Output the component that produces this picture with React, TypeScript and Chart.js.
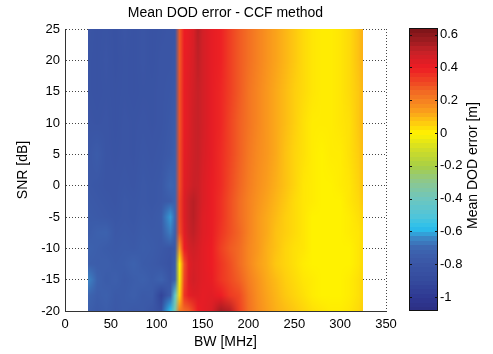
import React, { useEffect, useRef } from 'react';
import { Chart, registerables } from 'chart.js';

Chart.register(...registerables);

// ---------- data ----------
const TITLE = 'Mean DOD error - CCF method';
const X_TITLE = 'BW [MHz]';
const Y_TITLE = 'SNR [dB]';
const CB_TITLE = 'Mean DOD error [m]';

const BW_MHZ = [25, 35, 45, 55, 65, 75, 85, 95, 105, 115, 120, 125, 130, 135, 140, 145, 150, 160, 170, 180, 190, 200, 210, 220, 230, 240, 250, 260, 270, 280, 290, 300, 310, 320, 325];
const SNR_DB = [25, 20, 15, 10, 5, 0, -2.5, -5, -7.5, -10, -12.5, -15, -17.5, -20];

const ERR_SNR_25 = [-0.80, -0.82, -0.81, -0.83, -0.80, -0.82, -0.80, -0.82, -0.81, -0.80, -0.80, 0.28, 0.40, 0.42, 0.45, 0.52, 0.47, 0.42, 0.39, 0.33, 0.28, 0.24, 0.20, 0.16, 0.13, 0.10, 0.07, 0.04, 0.02, 0.01, 0.01, 0.02, 0.04, 0.08, 0.11];
const ERR_SNR_20 = [-0.81, -0.82, -0.80, -0.83, -0.81, -0.82, -0.80, -0.82, -0.80, -0.80, -0.79, 0.28, 0.41, 0.43, 0.46, 0.51, 0.47, 0.42, 0.39, 0.33, 0.28, 0.24, 0.20, 0.16, 0.13, 0.10, 0.07, 0.04, 0.02, 0.01, 0.01, 0.02, 0.04, 0.08, 0.11];
const ERR_SNR_15 = [-0.81, -0.82, -0.81, -0.82, -0.81, -0.82, -0.81, -0.81, -0.80, -0.79, -0.78, 0.29, 0.41, 0.44, 0.47, 0.50, 0.47, 0.42, 0.38, 0.33, 0.28, 0.23, 0.19, 0.15, 0.12, 0.09, 0.06, 0.04, 0.02, 0.01, 0.01, 0.02, 0.04, 0.07, 0.10];
const ERR_SNR_10 = [-0.80, -0.81, -0.80, -0.82, -0.80, -0.81, -0.80, -0.81, -0.80, -0.78, -0.76, 0.29, 0.41, 0.44, 0.48, 0.50, 0.47, 0.42, 0.38, 0.32, 0.27, 0.23, 0.19, 0.15, 0.12, 0.09, 0.06, 0.03, 0.01, 0.01, 0.01, 0.02, 0.03, 0.07, 0.10];
const ERR_SNR_5 = [-0.79, -0.76, -0.80, -0.81, -0.80, -0.81, -0.79, -0.80, -0.79, -0.77, -0.74, 0.30, 0.42, 0.45, 0.48, 0.50, 0.46, 0.42, 0.37, 0.32, 0.27, 0.22, 0.18, 0.15, 0.12, 0.08, 0.05, 0.03, 0.01, 0.00, 0.01, 0.01, 0.03, 0.06, 0.09];
const ERR_SNR_0 = [-0.78, -0.79, -0.80, -0.80, -0.79, -0.80, -0.78, -0.79, -0.78, -0.70, -0.72, 0.30, 0.43, 0.46, 0.49, 0.49, 0.45, 0.41, 0.37, 0.31, 0.26, 0.21, 0.17, 0.14, 0.11, 0.08, 0.05, 0.02, 0.01, 0.00, 0.00, 0.01, 0.02, 0.05, 0.08];
const ERR_SNR_M2_5 = [-0.77, -0.78, -0.79, -0.80, -0.78, -0.79, -0.78, -0.79, -0.78, -0.76, -0.72, 0.32, 0.44, 0.50, 0.52, 0.50, 0.45, 0.41, 0.36, 0.30, 0.25, 0.20, 0.16, 0.13, 0.10, 0.07, 0.04, 0.02, 0.01, 0.00, 0.00, 0.00, 0.02, 0.04, 0.07];
const ERR_SNR_M5 = [-0.76, -0.77, -0.78, -0.79, -0.78, -0.79, -0.77, -0.78, -0.76, -0.62, -0.70, 0.32, 0.44, 0.50, 0.52, 0.49, 0.44, 0.41, 0.36, 0.30, 0.25, 0.20, 0.15, 0.12, 0.09, 0.06, 0.04, 0.02, 0.00, 0.00, 0.00, 0.00, 0.01, 0.03, 0.05];
const ERR_SNR_M7_5 = [-0.76, -0.73, -0.72, -0.78, -0.77, -0.78, -0.76, -0.77, -0.77, -0.66, -0.74, 0.30, 0.43, 0.49, 0.51, 0.48, 0.44, 0.41, 0.35, 0.30, 0.26, 0.20, 0.15, 0.12, 0.08, 0.06, 0.04, 0.02, 0.00, 0.00, 0.00, 0.00, 0.01, 0.02, 0.04];
const ERR_SNR_M10 = [-0.72, -0.74, -0.76, -0.77, -0.76, -0.77, -0.75, -0.76, -0.78, -0.80, -0.78, 0.15, 0.40, 0.46, 0.48, 0.46, 0.43, 0.40, 0.33, 0.28, 0.25, 0.19, 0.15, 0.11, 0.08, 0.05, 0.03, 0.02, 0.00, 0.00, 0.00, 0.00, 0.00, 0.02, 0.04];
const ERR_SNR_M12_5 = [-0.74, -0.75, -0.74, -0.76, -0.75, -0.72, -0.76, -0.77, -0.79, -0.82, -0.75, 0.00, 0.30, 0.43, 0.46, 0.45, 0.43, 0.40, 0.35, 0.30, 0.25, 0.19, 0.14, 0.11, 0.07, 0.05, 0.03, 0.01, 0.00, 0.00, 0.00, 0.00, 0.00, 0.02, 0.04];
const ERR_SNR_M15 = [-0.64, -0.72, -0.76, -0.74, -0.77, -0.75, -0.73, -0.76, -0.72, -0.80, -0.72, -0.02, 0.32, 0.44, 0.47, 0.45, 0.43, 0.41, 0.35, 0.31, 0.27, 0.21, 0.16, 0.12, 0.09, 0.06, 0.04, 0.02, 0.01, 0.00, 0.00, 0.00, 0.01, 0.03, 0.05];
const ERR_SNR_M17_5 = [-0.70, -0.75, -0.73, -0.77, -0.76, -0.74, -0.77, -0.76, -0.93, -0.75, -0.45, 0.05, 0.35, 0.42, 0.44, 0.44, 0.42, 0.43, 0.40, 0.34, 0.31, 0.23, 0.17, 0.13, 0.10, 0.07, 0.05, 0.03, 0.01, 0.00, 0.00, 0.00, 0.01, 0.03, 0.05];
const ERR_SNR_M20 = [-0.74, -0.77, -0.75, -0.78, -0.76, -0.78, -0.77, -0.80, -0.85, -0.58, -0.35, 0.22, 0.25, 0.27, 0.33, 0.40, 0.42, 0.45, 0.55, 0.52, 0.33, 0.24, 0.18, 0.14, 0.11, 0.09, 0.07, 0.05, 0.03, 0.02, 0.01, 0.01, 0.02, 0.04, 0.06];

const X_TICKS = [0, 50, 100, 150, 200, 250, 300, 350];
const Y_TICKS = [-20, -15, -10, -5, 0, 5, 10, 15, 20, 25];
const CB_TICKS = [-1, -0.8, -0.6, -0.4, -0.2, 0, 0.2, 0.4, 0.6];
const CB_MIN = -1.085;
const CB_MAX = 0.64;

const CMAP_VALUES = [-1.085, -1.0, -0.9, -0.8, -0.7, -0.64, -0.58, -0.5, -0.4, -0.3, -0.2, -0.1, 0.0, 0.05, 0.1, 0.15, 0.2, 0.25, 0.3, 0.4, 0.5, 0.55, 0.64];
const CMAP_COLORS = ['#2b2e83', '#2f3892', '#344a9d', '#3a55a5', '#3d65b0', '#3b86c6', '#29c0ee', '#52c5d8', '#6dc6bf', '#8bc791', '#a8cf45', '#cfdd28', '#fff200', '#fed40c', '#fcb516', '#f9971d', '#f68121', '#f26b23', '#f04e23', '#ed1c24', '#c62127', '#a51d22', '#7a1417'];

const GRID = [ERR_SNR_25, ERR_SNR_20, ERR_SNR_15, ERR_SNR_10, ERR_SNR_5, ERR_SNR_0, ERR_SNR_M2_5, ERR_SNR_M5, ERR_SNR_M7_5, ERR_SNR_M10, ERR_SNR_M12_5, ERR_SNR_M15, ERR_SNR_M17_5, ERR_SNR_M20];

// ---------- helpers ----------
const FONT_FAMILY = '"Liberation Sans", Arial, Helvetica, sans-serif';
const TEXT_COLOR = '#000';

function hexToRgb(h: string): number[] {
  const n = parseInt(h.slice(1), 16);
  return [(n >> 16) & 255, (n >> 8) & 255, n & 255];
}
const CMAP_RGB = CMAP_COLORS.map(hexToRgb);

function colorFor(v: number): number[] {
  if (v <= CMAP_VALUES[0]) return CMAP_RGB[0];
  const last = CMAP_VALUES.length - 1;
  if (v >= CMAP_VALUES[last]) return CMAP_RGB[last];
  for (let i = 0; i < last; i++) {
    const a = CMAP_VALUES[i], b = CMAP_VALUES[i + 1];
    if (v >= a && v <= b) {
      const t = (v - a) / (b - a);
      const c0 = CMAP_RGB[i], c1 = CMAP_RGB[i + 1];
      return [c0[0] + (c1[0] - c0[0]) * t, c0[1] + (c1[1] - c0[1]) * t, c0[2] + (c1[2] - c0[2]) * t];
    }
  }
  return CMAP_RGB[last];
}

function locate(arr: number[], v: number): [number, number] {
  const asc = arr[arr.length - 1] > arr[0];
  const n = arr.length;
  for (let i = 0; i < n - 1; i++) {
    const a = arr[i], b = arr[i + 1];
    const inside = asc ? v >= a && v <= b : v <= a && v >= b;
    if (inside) return [i, (v - a) / (b - a)];
  }
  if (asc ? v < arr[0] : v > arr[0]) return [0, 0];
  return [n - 2, 1];
}

const heatmapPlugin = {
  id: 'heatmap',
  beforeDatasetsDraw(chart: any) {
    const xs = chart.scales.x, ys = chart.scales.y;
    const ctx = chart.ctx as CanvasRenderingContext2D;
    const x0 = Math.round(xs.getPixelForValue(BW_MHZ[0]));
    const x1 = Math.round(xs.getPixelForValue(BW_MHZ[BW_MHZ.length - 1]));
    const y0 = Math.round(ys.getPixelForValue(SNR_DB[0]));
    const y1 = Math.round(ys.getPixelForValue(SNR_DB[SNR_DB.length - 1]));
    const w = x1 - x0, h = y1 - y0;
    if (w <= 0 || h <= 0) return;
    const nodes = GRID.map((row) => row.map((v) => colorFor(v)));
    const off = document.createElement('canvas');
    off.width = w; off.height = h;
    const octx = off.getContext('2d')!;
    const img = octx.createImageData(w, h);
    const colIdx: [number, number][] = [];
    for (let i = 0; i < w; i++) colIdx.push(locate(BW_MHZ, xs.getValueForPixel(x0 + i + 0.5)));
    for (let j = 0; j < h; j++) {
      const [r, t] = locate(SNR_DB, ys.getValueForPixel(y0 + j + 0.5));
      const rowA = nodes[r], rowB = nodes[r + 1];
      for (let i = 0; i < w; i++) {
        const [c, u] = colIdx[i];
        const p = (j * w + i) * 4;
        for (let k = 0; k < 3; k++) {
          const top = rowA[c][k] * (1 - u) + rowA[c + 1][k] * u;
          const bot = rowB[c][k] * (1 - u) + rowB[c + 1][k] * u;
          img.data[p + k] = Math.round(top * (1 - t) + bot * t);
        }
        img.data[p + 3] = 255;
      }
    }
    octx.putImageData(img, 0, 0);
    ctx.drawImage(off, x0, y0);
  },
};

const colorbarPlugin = {
  id: 'colorbar',
  beforeDatasetsDraw(chart: any) {
    const ys = chart.scales.y;
    const { left, right } = chart.chartArea;
    const ctx = chart.ctx as CanvasRenderingContext2D;
    const n = 64;
    const d = (CB_MAX - CB_MIN) / n;
    for (let k = 0; k < n; k++) {
      const lo = CB_MIN + k * d, hi = lo + d;
      const c = colorFor((lo + hi) / 2);
      const yt = ys.getPixelForValue(hi), yb = ys.getPixelForValue(lo);
      ctx.fillStyle = `rgb(${Math.round(c[0])},${Math.round(c[1])},${Math.round(c[2])})`;
      ctx.fillRect(left, Math.floor(yt), right - left, Math.ceil(yb) - Math.floor(yt));
    }
    const top = ys.getPixelForValue(CB_MAX), bottom = ys.getPixelForValue(CB_MIN);
    ctx.save();
    ctx.strokeStyle = '#111';
    ctx.lineWidth = 1;
    ctx.strokeRect(Math.round(left) + 0.5, Math.round(top) + 0.5, Math.round(right - left) - 1, Math.round(bottom - top) - 1);
    ctx.beginPath();
    for (const v of CB_TICKS) {
      const y = Math.round(ys.getPixelForValue(v)) + 0.5;
      ctx.moveTo(left, y); ctx.lineTo(left + 3, y);
      ctx.moveTo(right - 3, y); ctx.lineTo(right, y);
    }
    ctx.stroke();
    ctx.restore();
  },
  afterDraw(chart: any) {
    const ctx = chart.ctx as CanvasRenderingContext2D;
    const { top, bottom } = chart.chartArea;
    ctx.save();
    ctx.translate(87, (top + bottom) / 2 - 4);
    ctx.rotate(-Math.PI / 2);
    ctx.textAlign = 'center';
    ctx.textBaseline = 'middle';
    ctx.fillStyle = TEXT_COLOR;
    ctx.font = `14px ${FONT_FAMILY}`;
    ctx.fillText(CB_TITLE, 0, 0);
    ctx.restore();
  },
};

function fmt(v: number): string {
  if (Math.abs(v) < 1e-9) return '0';
  return String(Math.round(v * 10) / 10);
}

export default function App() {
  const mainRef = useRef<HTMLCanvasElement>(null);
  const cbRef = useRef<HTMLCanvasElement>(null);

  useEffect(() => {
    const tickFont = { family: FONT_FAMILY, size: 13 };
    const titleFont = { family: FONT_FAMILY, size: 14, weight: 'normal' as const };
    const main = new Chart(mainRef.current!, {
      type: 'scatter',
      data: { datasets: [{ data: [] }] },
      options: {
        animation: false,
        responsive: false,
        devicePixelRatio: 1,
        layout: { padding: { left: 0, right: 107, top: 0, bottom: 0 } },
        plugins: {
          legend: { display: false },
          tooltip: { enabled: false },
          title: {
            display: true,
            text: TITLE,
            fullSize: false,
            color: TEXT_COLOR,
            font: titleFont,
            padding: { top: 4.5, bottom: 7.7 },
          },
        },
        scales: {
          x: {
            type: 'linear',
            min: 0,
            max: 350,
            afterBuildTicks: (s: any) => { s.ticks = X_TICKS.map((v) => ({ value: v })); },
            afterFit: (s: any) => { s.height = 43; },
            grid: { color: '#444', drawTicks: false, lineWidth: 1 },
            border: { display: true, color: '#333', dash: [1, 2] },
            ticks: { padding: 6, color: TEXT_COLOR, font: tickFont, maxRotation: 0, callback: (v: any) => String(v) },
            title: { display: true, text: X_TITLE, color: TEXT_COLOR, font: titleFont, padding: { top: 0, bottom: 3 } },
          },
          y: {
            type: 'linear',
            min: -20,
            max: 25,
            afterBuildTicks: (s: any) => { s.ticks = Y_TICKS.map((v) => ({ value: v })); },
            afterFit: (s: any) => { s.width = 65; },
            grid: { color: '#444', drawTicks: false, lineWidth: 1 },
            border: { display: true, color: '#333', dash: [1, 2] },
            ticks: { padding: 5, color: TEXT_COLOR, font: tickFont, callback: (v: any) => String(v) },
            title: { display: true, text: Y_TITLE, color: TEXT_COLOR, font: titleFont, padding: { top: 15, bottom: 0 } },
          },
        },
      },
      plugins: [heatmapPlugin],
    } as any);

    const cb = new Chart(cbRef.current!, {
      type: 'scatter',
      data: { datasets: [{ data: [] }] },
      options: {
        animation: false,
        responsive: false,
        devicePixelRatio: 1,
        layout: { padding: { left: 23, right: 0, top: 28, bottom: 43 } },
        plugins: { legend: { display: false }, tooltip: { enabled: false } },
        scales: {
          x: { type: 'linear', display: false, min: 0, max: 1 },
          y: {
            type: 'linear',
            position: 'right',
            min: CB_MIN,
            max: CB_MAX,
            afterBuildTicks: (s: any) => { s.ticks = CB_TICKS.map((v) => ({ value: v })); },
            afterFit: (s: any) => { s.width = 55; },
            grid: { display: false, drawTicks: false },
            border: { display: false },
            ticks: { padding: 2, color: TEXT_COLOR, font: tickFont, callback: (v: any) => fmt(Number(v)) },
          },
        },
      },
      plugins: [colorbarPlugin],
    } as any);

    return () => { main.destroy(); cb.destroy(); };
  }, []);

  return (
    <div style={{ position: 'fixed', left: 0, top: 0, width: 493, height: 354, background: '#fff' }}>
      <canvas ref={mainRef} width={493} height={354} style={{ position: 'absolute', left: 0, top: 0 }} />
      <canvas ref={cbRef} width={107} height={354} style={{ position: 'absolute', left: 386, top: 0 }} />
    </div>
  );
}
